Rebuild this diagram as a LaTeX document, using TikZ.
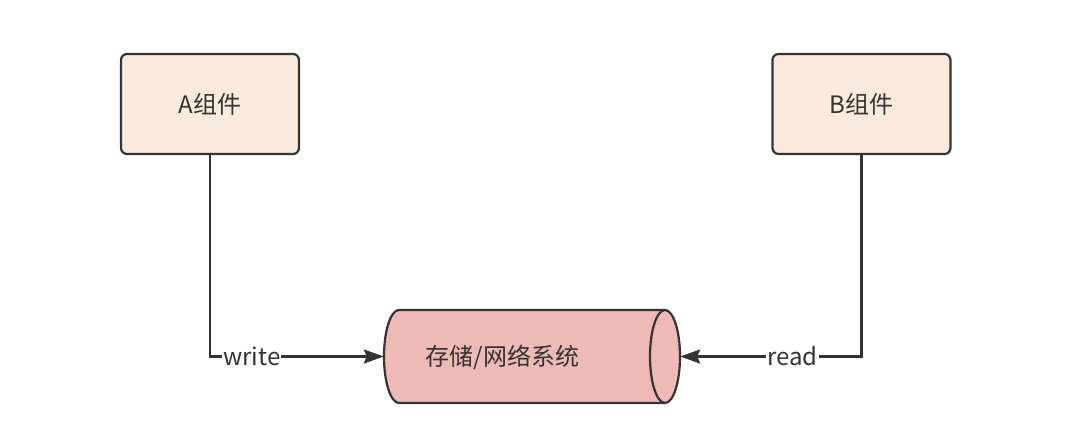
\documentclass[tikz,border=0pt]{standalone}
\usepackage{fontspec}
\setmainfont{Noto Sans CJK SC}
\usetikzlibrary{arrows.meta}
\definecolor{boxfill}{HTML}{FAE9DD}
\definecolor{cylfill}{HTML}{EDBAB7}
\definecolor{ink}{HTML}{333333}
\tikzset{
  comp/.style={draw=ink, line width=2.2pt, fill=boxfill, rounded corners=6pt,
    minimum width=178pt, minimum height=100pt, inner sep=0pt, text=ink, font=\fontsize{24}{28}\selectfont},
  conn/.style={draw=ink, line width=2.2pt, -{Stealth[length=20pt,width=14pt,inset=3pt]}},
  lbl/.style={fill=white, inner sep=1pt, text=ink, font=\fontsize{24}{28}\selectfont},
}
\begin{document}
\begin{tikzpicture}[x=1pt,y=1pt]
\useasboundingbox (0,0) rectangle (1080,439);
\node[comp] (A) at (210,335) {\raisebox{-2pt}{A组件}};
\node[comp] (B) at (861.5,335) {\raisebox{-2pt}{B组件}};
% cylinder anchor node
\node[minimum width=296pt, minimum height=93pt, inner sep=0pt] (cyl) at (532,82.5) {};
\path[fill=cylfill] (665,129) -- (399,129) arc[start angle=90,end angle=270,x radius=15,y radius=46.5] -- (665,36) -- cycle;
\draw[ink, line width=2.2pt, line join=round] (665,129) -- (399,129) arc[start angle=90,end angle=270,x radius=15,y radius=46.5] -- (665,36);
\draw[ink, line width=2.2pt, fill=cylfill] (665,82.5) ellipse [x radius=15, y radius=46.5];
\node[text=ink, font=\fontsize{24}{28}\selectfont] (cyltxt) at (502.5,82) {存储/网络系统};
\draw[conn] (A.south) |- node[lbl, pos=0.62] {write} (cyl.west);
\draw[conn] (B.south) |- node[lbl, pos=0.69] {read} (cyl.east);
\end{tikzpicture}
\end{document}
